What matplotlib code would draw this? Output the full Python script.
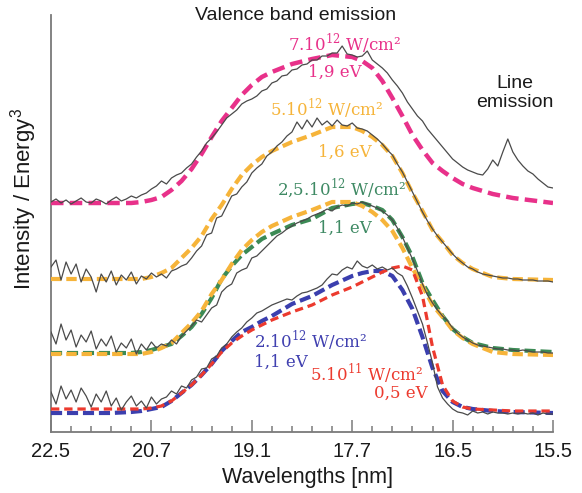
import numpy as np
import matplotlib
matplotlib.use("Agg")
import matplotlib.pyplot as plt

plt.rcParams['font.family'] = ['Liberation Sans', 'DejaVu Sans']
plt.rcParams['mathtext.fontset'] = 'custom'
plt.rcParams['mathtext.rm'] = 'DejaVu Serif'
plt.rcParams['mathtext.sf'] = 'Liberation Sans'
plt.rcParams['lines.scale_dashes'] = False

# Photon energy axis (eV); the tick labels give the matching wavelengths in nm
tick_energy_ev = [55, 60, 65, 70, 75, 80]
tick_labels_nm = ['22.5', '20.7', '19.1', '17.7', '16.5', '15.5']
minor_tick_ev = [56, 57, 58, 59, 61, 62, 63, 64, 66, 67, 68, 69,
                 71, 72, 73, 74, 76, 77, 78, 79]

# Model spectra (intensity / energy^3, arbitrary units, vertically stacked)
fit_energy_ev = [55, 57, 58, 59, 59.5, 60, 60.5, 61, 61.5, 62, 62.5, 63, 63.5,
                 64, 64.5, 65, 65.5, 66, 67, 68, 69, 70, 70.5, 71, 71.5, 72,
                 72.5, 73, 73.5, 74, 74.5, 75, 75.5, 76, 77, 78, 80]
fit_7e12 = [229, 229, 229, 229, 230, 232, 235, 242, 251, 263, 278, 295, 311,
            324, 337, 347, 355, 360, 368, 373, 377, 375, 371, 364, 351, 334,
            316, 297, 282, 269, 261, 254, 248, 244, 238, 234, 229]
fit_5e12 = [153, 153, 153, 153, 153, 155, 159, 164, 174, 184, 196, 213, 227,
            243, 257, 267, 275, 281, 290, 297, 305, 305, 301, 295, 287, 276,
            259, 239, 221, 202, 190, 177, 169, 163, 155, 153, 152]
fit_2p5e12 = [79, 79, 79, 79, 80, 82, 85, 88, 96, 105, 118, 134, 153,
              166, 177, 185, 193, 198, 207, 213, 224, 228, 229, 226, 222, 212,
              195, 175, 149, 132, 116, 103, 95, 89, 84, 82, 80]
fit_2e12 = [19, 19, 19, 20, 21, 23, 25, 31, 39, 47, 57, 68, 81,
            91, 100, 105, 111, 116, 128, 136, 147, 156, 159, 161, 161, 156,
            142, 123, 95, 64, 41, 30, 25, 23, 21, 20, 19]
fit_5e11 = [23, 23, 23, 23, 23, 24, 26, 31, 39, 47, 57, 68, 80,
            89, 96, 102, 107, 112, 120, 127, 137, 145, 150, 155, 160, 164,
            166, 162, 136, 85, 47, 31, 25, 23, 22, 21, 21]
# the 5e12 model is repeated under the 2.5e12 spectrum for comparison
offset_5e12_copy = 75

# Measured spectra, sampled every 0.25 eV
spectrum_energy_ev = np.arange(55.0, 80.001, 0.25)
spectrum_7e12 = [230, 233, 229, 232, 228, 231, 234, 230, 229, 233, 231, 228,
                 232, 235, 231, 233, 236, 234,
                 237, 239, 243, 246, 251, 248, 254, 257, 259, 264, 268, 275,
                 281, 289, 294, 300, 307, 314, 318, 322, 328, 331, 333,
                 336, 341, 343, 349, 351, 356, 357, 362, 363, 367, 368, 372,
                 372, 376, 376, 379, 379, 386, 378, 377,
                 375, 376, 381, 372, 368, 364, 359, 352, 346, 339, 330, 323,
                 316, 311, 303, 297, 291, 285, 279, 273,
                 269, 265, 262, 260, 258, 257, 263, 272, 266, 280, 293, 280,
                 272, 266, 261, 258, 253, 249, 245, 244]
spectrum_5e12 = [165, 172, 152, 170, 158, 168, 150, 163, 155, 140, 158, 150,
                 161, 147, 157, 152, 160, 148, 156, 153, 159, 155, 158, 154,
                 161, 163, 166, 168,
                 174, 181, 186, 197, 199, 214, 216, 226, 236, 238, 245, 250,
                 259, 264, 268, 276, 280, 286, 290, 296, 300,
                 310, 303, 312, 305, 314, 307, 311, 306, 312, 307, 306, 309,
                 304, 303, 301, 297, 293, 288, 282, 277,
                 268, 260, 250, 240, 230, 220, 211, 203, 196, 190, 184, 178,
                 173, 169, 165, 163, 160, 158, 157, 156, 155, 154, 154, 153,
                 153, 152, 152, 152, 151, 151, 151, 150]
spectrum_2p5e12 = [100, 88, 108, 92, 102, 85, 97, 90, 101, 83, 93, 86, 96, 80,
                   89, 84, 93, 78, 88, 82, 90, 84, 88, 86, 92, 88, 96,
                   101, 106, 112, 110, 117, 124, 127, 140, 145, 148, 159, 162,
                   164, 174, 176, 181, 186, 191, 196, 199, 203, 206, 209, 211,
                   213, 216, 218, 220, 223,
                   221, 225, 227, 226, 229, 228, 230, 228, 226, 224, 221, 217,
                   212, 204, 195, 184, 173, 161, 148, 137,
                   129, 122, 116, 111, 104, 99, 95, 92, 89, 87, 86, 85, 84,
                   83, 83, 82, 82, 81, 82, 81, 80, 80, 80, 79, 79]
spectrum_2e12 = [40, 28, 46, 33, 42, 30, 44, 36, 25, 38, 30, 41, 26, 34, 22,
                 30, 36, 26, 31, 24, 35, 28, 33,
                 35, 41, 38, 46, 44, 52, 55, 63, 64, 73, 76, 84, 88, 95, 100,
                 104, 110, 114, 119, 121, 124, 127, 129, 131, 133, 132, 136,
                 139, 140, 142, 144, 147, 153, 158, 157, 162, 165, 163, 171,
                 166, 164, 167, 163, 165, 162, 164, 159,
                 156, 146, 134, 121, 108, 89, 69, 45, 34, 28, 23, 20, 19, 17,
                 21, 19, 20, 18, 20, 19, 19, 18, 19, 18, 19, 18, 19, 17, 19,
                 18, 18]

magenta = '#E8318A'
orange = '#F6B43A'
green = '#3C8A55'
blue = '#3B3FAE'
red = '#EC3A2E'
data_gray = '#4a4a4a'
axis_gray = '#7a7a7a'

fig = plt.figure(figsize=(5.82, 4.93), dpi=100)
ax = fig.add_axes([51 / 582, 1 - 432 / 493, 502 / 582, 417 / 493])
ax.set_xlim(55, 80)
ax.set_ylim(0, 417)

# model curves
ax.plot(fit_energy_ev, fit_7e12, color=magenta, lw=3.2, dashes=(9, 4.5), zorder=3)
ax.plot(fit_energy_ev, fit_5e12, color=orange, lw=3.0, dashes=(7.5, 3.5), zorder=3)
ax.plot(fit_energy_ev, fit_2p5e12, color=green, lw=3.0, dashes=(8, 3.5), zorder=3)
ax.plot(fit_energy_ev, np.array(fit_5e12) - offset_5e12_copy, color=orange,
        lw=3.0, dashes=(7.5, 3.5), zorder=3)
ax.plot(fit_energy_ev, fit_2e12, color=blue, lw=3.0, dashes=(8, 3.5), zorder=3)
ax.plot(fit_energy_ev, fit_5e11, color=red, lw=2.3, dashes=(6, 3.5), zorder=3)

# measured spectra
for spec in (spectrum_7e12, spectrum_5e12, spectrum_2p5e12, spectrum_2e12):
    ax.plot(spectrum_energy_ev, spec, color=data_gray, lw=0.9, zorder=4)

# axes styling
for side in ('top', 'right'):
    ax.spines[side].set_visible(False)
for side in ('left', 'bottom'):
    ax.spines[side].set_color(axis_gray)
    ax.spines[side].set_linewidth(1.3)
ax.set_yticks([])
ax.set_xticks(tick_energy_ev)
ax.set_xticklabels(tick_labels_nm, fontsize=14.5, color='#1a1a1a')
ax.set_xticks(minor_tick_ev, minor=True)
ax.tick_params(axis='x', which='major', direction='in', length=9, width=1.1,
               color=axis_gray, pad=7)
ax.tick_params(axis='x', which='minor', direction='in', length=4.5, width=1.1,
               color=axis_gray)

fig.text(307 / 582, 1 - 478 / 493, 'Wavelengths [nm]', ha='center', va='center',
         fontsize=15.5, color='#1a1a1a')
fig.text(24 / 582, 1 - 199 / 493, 'Intensity / Energy$^{\\mathsf{3}}$',
         rotation=90, ha='center', va='center', fontsize=16, color='#1a1a1a')
fig.text(296 / 582, 1 - 15 / 493, 'Valence band emission', ha='center',
         va='center', fontsize=14, color='#1a1a1a')
ax.text(78.1, 339, 'Line\nemission', ha='center', va='center', fontsize=14,
        color='#1a1a1a', linespacing=1.15)

serif = ['DejaVu Serif']
ann = dict(fontsize=12, family=serif, va='center')
ax.text(69.64, 389, '7.10$^{\\mathrm{12}}$ W/cm²', color=magenta, ha='center', **ann)
ax.text(69.14, 360, '1,9 eV', color=magenta, ha='center', **ann)
ax.text(68.74, 324, '5.10$^{\\mathrm{12}}$ W/cm²', color=orange, ha='center', **ann)
ax.text(69.64, 280, '1,6 eV', color=orange, ha='center', **ann)
ax.text(69.49, 244, '2,5.10$^{\\mathrm{12}}$ W/cm²', color='#3F8A64', ha='center', **ann)
ax.text(69.64, 204, '1,1 eV', color='#3F8A64', ha='center', **ann)
ax.text(65.11, 92, '2.10$^{\\mathrm{12}}$ W/cm²', color='#4040B0', ha='left', **ann)
ax.text(65.11, 70, '1,1 eV', color='#4040B0', ha='left', **ann)
ax.text(70.74, 59, '5.10$^{\\mathrm{11}}$ W/cm²', color=red, ha='center', **ann)
ax.text(72.43, 39, '0,5 eV', color=red, ha='center', **ann)

fig.savefig('out.png', dpi=100)
